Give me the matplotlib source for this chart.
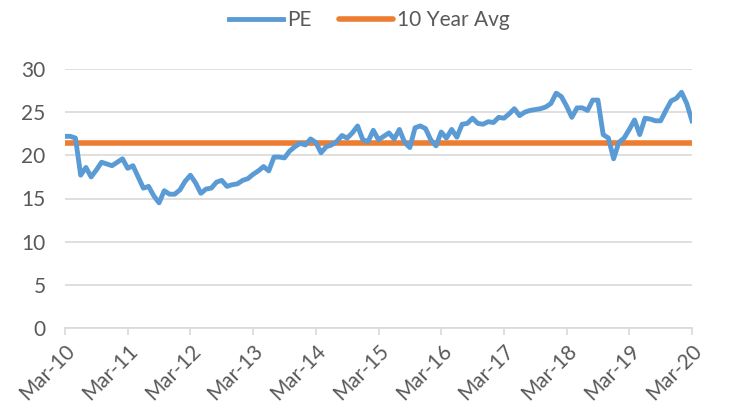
import matplotlib
matplotlib.use("Agg")
import matplotlib.pyplot as plt
import numpy as np

tick_labels = ["Mar-10", "Mar-11", "Mar-12", "Mar-13", "Mar-14", "Mar-15",
               "Mar-16", "Mar-17", "Mar-18", "Mar-19", "Mar-20"]

pe = [22.2, 22.2, 22.0, 17.7, 18.6, 17.5, 18.3, 19.2, 19.0, 18.8, 19.2, 19.6,
      18.5, 18.8, 17.5, 16.2, 16.4, 15.3, 14.5, 15.9, 15.5, 15.5, 16.0, 17.0,
      17.7, 16.8, 15.6, 16.1, 16.2, 16.9, 17.1, 16.4, 16.6, 16.7, 17.1, 17.3,
      17.8, 18.2, 18.7, 18.2, 19.8, 19.8, 19.7, 20.5, 21.0, 21.4, 21.2, 21.9,
      21.5, 20.3, 21.0, 21.2, 21.6, 22.3, 22.0, 22.6, 23.4, 21.8, 21.6, 22.9,
      21.8, 22.2, 22.6, 21.9, 23.0, 21.5, 20.9, 23.2, 23.4, 23.1, 21.8, 21.1,
      22.7, 22.0, 23.0, 22.1, 23.6, 23.7, 24.3, 23.7, 23.6, 23.9, 23.8, 24.4,
      24.3, 24.8, 25.4, 24.6, 25.0, 25.2, 25.3, 25.4, 25.6, 26.0, 27.2, 26.8,
      25.7, 24.4, 25.5, 25.5, 25.2, 26.4, 26.4, 22.4, 22.0, 19.6, 21.5, 22.0,
      23.0, 24.1, 22.4, 24.3, 24.2, 24.0, 24.0, 25.2, 26.3, 26.6, 27.3, 26.0,
      24.0]
avg_value = 21.4
avg = [avg_value] * len(pe)

x = np.arange(len(pe))

fig = plt.figure(figsize=(7.32, 4.13), dpi=100)
ax = fig.add_axes([65/732, 1-328/413, (692-65)/732, (328-69)/413])

txt = "#595959"
ax.plot(x, pe, color="#5B9BD5", lw=3.5, solid_joinstyle="round", label="PE", zorder=3)
ax.plot(x, avg, color="#ED7D31", lw=4.0, solid_capstyle="round", label="10 Year Avg", zorder=2)

ax.set_xlim(0, len(pe) - 1)
ax.set_ylim(0, 30)
ax.set_yticks(range(0, 31, 5))
ax.set_xticks(range(0, len(pe), 12))
ax.set_xticklabels(tick_labels, rotation=45, ha="right", rotation_mode="anchor")
ax.grid(axis="y", color="#D9D9D9", lw=1.2)
ax.set_axisbelow(True)
for s in ["top", "right", "left"]:
    ax.spines[s].set_visible(False)
ax.spines["bottom"].set_color("#D9D9D9")
ax.spines["bottom"].set_linewidth(1.2)
ax.tick_params(axis="y", length=0, pad=14, labelsize=15, labelcolor=txt)
ax.tick_params(axis="x", length=5, color="#D9D9D9", width=1.2, pad=4, labelsize=15, labelcolor=txt)
for lab in ax.get_xticklabels() + ax.get_yticklabels():
    lab.set_fontfamily("Lato")

leg = fig.legend(loc="upper center", bbox_to_anchor=(0.505, 1.02), ncol=2, frameon=False,
                 prop={"family": "Lato", "size": 15}, handlelength=2.6, columnspacing=1.3,
                 handletextpad=0.2)
for t in leg.get_texts():
    t.set_color(txt)

fig.savefig("out.png", dpi=100)
